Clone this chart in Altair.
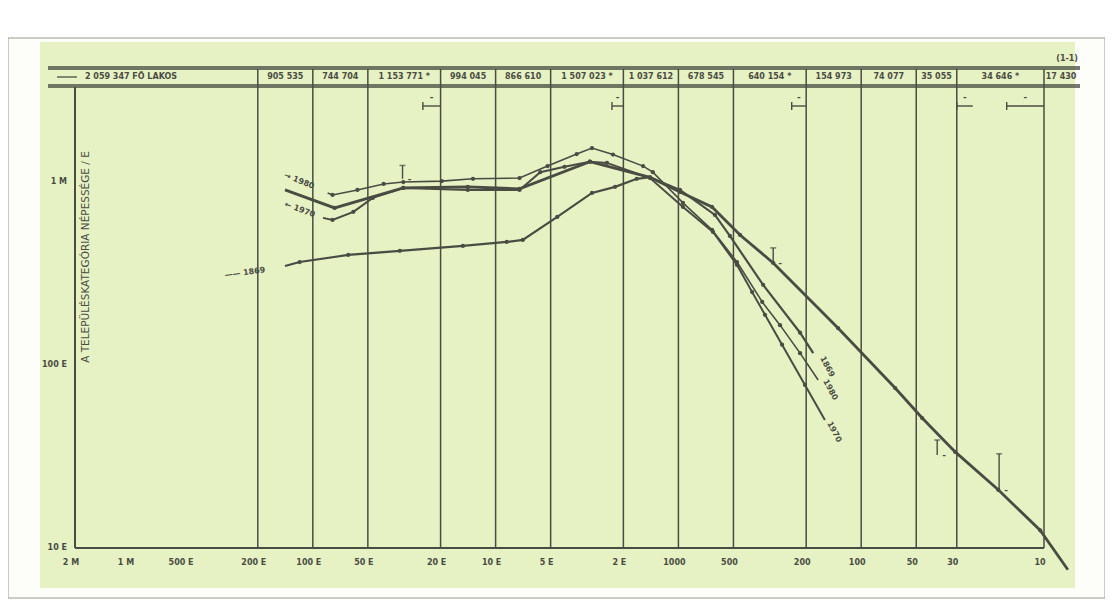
import altair as alt
import pandas as pd

# ---------------- data ----------------
bounds = [200000, 100000, 50000, 20000, 10000, 5000, 2000, 1000, 500, 200, 100, 50, 30, 10]
x_tick_values = [2000000, 1000000, 500000, 200000, 100000, 50000, 20000, 10000,
                 5000, 2000, 1000, 500, 200, 100, 50, 30, 10]
x_tick_labels = ["2 M", "1 M", "500 E", "200 E", "100 E", "50 E", "20 E", "10 E",
                 "5 E", "2 E", "1000", "500", "200", "100", "50", "30", "10"]
y_tick_values = [1000000, 100000, 10000]
y_tick_labels = ["1 M", "100 E", "10 E"]

header_lo = [2000000, 200000, 100000, 50000, 20000, 10000, 5000, 2000, 1000, 500, 200, 100, 50, 30, 10]
header_hi = [200000, 100000, 50000, 20000, 10000, 5000, 2000, 1000, 500, 200, 100, 50, 30, 10, 6.5]
header_text = ["2 059 347 FŐ LAKOS", "905 535", "744 704", "1 153 771 *", "994 045",
               "866 610", "1 507 023 *", "1 037 612", "678 545", "640 154 *",
               "154 973", "74 077", "35 055", "34 646 *", "17 430"]

s1980_x = [83000, 78000, 57000, 41000, 32000, 19700, 13300, 7400, 5200, 3600, 2970,
           2280, 1560, 1380, 944, 655, 478, 348, 278, 216, 172]
s1980_y = [871000, 849000, 904000, 975000, 998000, 1010000, 1040000, 1050000, 1220000,
           1420000, 1530000, 1410000, 1220000, 1130000, 768000, 547000, 365000, 221000,
           165000, 116000, 82800]

sthick_x = [142000, 76000, 32000, 14200, 7400, 3050, 1430, 980, 655, 460, 303, 134,
            65.2, 46.4, 30.6, 17.8, 10.5, 7.4]
sthick_y = [904000, 721000, 927000, 940000, 916000, 1290000, 1060000, 881000, 730000,
            513000, 361000, 159000, 74800, 51300, 33500, 20800, 12500, 7600]

s1970_x = [88000, 78000, 60000, 47000, 32000, 14200, 7400, 5700, 4200, 3050, 2460,
           1430, 944, 647, 478, 395, 336, 271, 203, 158]
s1970_y = [636000, 620000, 686000, 818000, 927000, 904000, 904000, 1130000, 1210000,
           1290000, 1270000, 1050000, 730000, 533000, 352000, 250000, 188000, 129000,
           77800, 50000]

s1869_x = [142000, 118000, 64000, 33400, 15100, 8700, 7100, 4600, 2970, 2220, 1690,
           1430, 980, 631, 523, 344, 216, 183]
s1869_y = [347000, 365000, 399000, 420000, 447000, 470000, 482000, 644000, 871000,
           940000, 1040000, 1060000, 904000, 660000, 507000, 274000, 150000, 116000]

label_text = ["→ 1980", "← 1970", "—— 1869", "1869", "1980", "1970"]
label_x = [119000, 118000, 235000, 154, 148, 141]
label_y = [1010000, 703000, 318000, 97600, 73000, 43000]
label_angle = [22, 20, 352, 62, 62, 62]

range_x = [32300, 303, 38.4, 17.6]
range_top = [1230000, 436000, 38900, 32700]
range_bot = [1040000, 361000, 32200, 20800]

bracket_l = [25000, 2310, 240, 30, 16]
bracket_r = [20000, 2000, 200, 24.5, 10]

# ---------------- styling ----------------
W, H = 969, 461
INK = "#4a4c43"
GREEN = "#e6f1c4"
FONT = "DejaVu Sans"

xs = alt.Scale(type="log", domain=[10, 2000000], reverse=True, nice=False, zero=False)
ys = alt.Scale(type="log", domain=[10000, 3300000], nice=False, zero=False)


def X(f):
    return alt.X(f, type="quantitative", scale=xs, axis=None)


def Y(f):
    return alt.Y(f, type="quantitative", scale=ys, axis=None)


one = pd.DataFrame({"a": [0]})

frame = alt.Chart(one).mark_rect(fill="#fdfdf9", stroke="#9a9a90", strokeWidth=1).encode(
    x=alt.value(-67), x2=alt.value(W + 61), y=alt.value(-49), y2=alt.value(H + 50))
green = alt.Chart(one).mark_rect(fill=GREEN).encode(
    x=alt.value(-35), x2=alt.value(W + 31), y=alt.value(-45), y2=alt.value(H + 40))

bdf = pd.DataFrame({"b": bounds})
grid = alt.Chart(bdf).mark_rule(color=INK, strokeWidth=1.5).encode(
    x=X("b"), y=alt.value(-18), y2=alt.value(H))

# axis lines
x_axis = alt.Chart(one).mark_rule(color=INK, strokeWidth=2).encode(
    x=alt.value(0), x2=alt.value(W), y=alt.value(H))
y_axis = alt.Chart(one).mark_rule(color=INK, strokeWidth=2).encode(
    x=alt.value(0), y=alt.value(0), y2=alt.value(H))

hlines = []
for yy in [-20, -18, -2, 0]:
    hlines.append(alt.Chart(one).mark_rule(color=INK, strokeWidth=1.3).encode(
        x=alt.value(-27), x2=alt.value(W + 36), y=alt.value(yy)))
arrow = alt.Chart(one).mark_rule(color=INK, strokeWidth=1.3).encode(
    x=alt.value(-18), x2=alt.value(2), y=alt.value(-10))

hdf = pd.DataFrame({"lo": header_lo, "hi": header_hi, "t": header_text})
hdf["c"] = (hdf["lo"] * hdf["hi"]) ** 0.5
head_first = alt.Chart(hdf.iloc[:1]).mark_text(
    align="left", baseline="middle", dx=10, font=FONT, fontSize=8, fontWeight="bold",
    color=INK).encode(x=X("lo"), y=alt.value(-10), text="t")
head_rest = alt.Chart(hdf.iloc[1:]).mark_text(
    align="center", baseline="middle", font=FONT, fontSize=8, fontWeight="bold",
    color=INK).encode(x=X("c"), y=alt.value(-10), text="t")
corner = alt.Chart(one).mark_text(
    align="right", baseline="middle", font=FONT, fontSize=8, fontWeight="bold",
    color=INK, text="(1-1)").encode(x=alt.value(W + 34), y=alt.value(-28))

layers = [frame, green, grid, x_axis, y_axis] + hlines + [arrow, head_first, head_rest, corner]

series = [(s1980_x, s1980_y, 1.6), (sthick_x, sthick_y, 2.8),
          (s1970_x, s1970_y, 2.0), (s1869_x, s1869_y, 2.2)]
for sx, sy, w in series:
    d = pd.DataFrame({"x": sx, "y": sy, "i": range(len(sx))})
    layers.append(alt.Chart(d).mark_line(color=INK, strokeWidth=w).encode(
        x=X("x"), y=Y("y"), order="i:Q"))
    layers.append(alt.Chart(d.iloc[1:-1]).mark_point(
        filled=True, color=INK, size=18, opacity=1).encode(x=X("x"), y=Y("y")))

ldf = pd.DataFrame({"t": label_text, "x": label_x, "y": label_y, "a": label_angle})
for _, r in ldf.iterrows():
    layers.append(alt.Chart(pd.DataFrame([r])).mark_text(
        align="center", baseline="middle", font=FONT, fontSize=8, fontWeight="bold",
        color=INK, angle=float(r["a"])).encode(x=X("x"), y=Y("y"), text="t"))

rdf = pd.DataFrame({"x": range_x, "t": range_top, "b": range_bot})
layers.append(alt.Chart(rdf).mark_rule(color=INK, strokeWidth=1.4).encode(
    x=X("x"), y=Y("t"), y2="b"))
layers.append(alt.Chart(rdf).mark_tick(color=INK, thickness=1.5, size=6, orient="horizontal").encode(
    x=X("x"), y=Y("t")))
layers.append(alt.Chart(rdf).mark_text(
    text="-", dx=7, font=FONT, fontSize=9, fontWeight="bold", color=INK).encode(
    x=X("x"), y=Y("b")))

brdf = pd.DataFrame({"l": bracket_l, "r": bracket_r})
brdf["c"] = (brdf["l"] * brdf["r"]) ** 0.5
layers.append(alt.Chart(brdf).mark_rule(color=INK, strokeWidth=1.4).encode(
    x=X("l"), x2="r", y=alt.value(19)))
layers.append(alt.Chart(brdf).mark_rule(color=INK, strokeWidth=1.4).encode(
    x=X("l"), y=alt.value(15), y2=alt.value(23)))
layers.append(alt.Chart(brdf).mark_text(
    text="-", font=FONT, fontSize=9, fontWeight="bold", color=INK).encode(
    x=X("c"), y=alt.value(10)))

xt = pd.DataFrame({"v": x_tick_values, "t": x_tick_labels})
layers.append(alt.Chart(xt).mark_text(
    baseline="middle", dx=-4, font=FONT, fontSize=8, fontWeight="bold", color=INK).encode(
    x=X("v"), y=alt.value(H + 15), text="t"))
yt = pd.DataFrame({"v": y_tick_values, "t": y_tick_labels})
layers.append(alt.Chart(yt).mark_text(
    align="right", baseline="middle", dx=-8, font=FONT, fontSize=8, fontWeight="bold",
    color=INK).encode(x=alt.value(0), y=Y("v"), text="t"))
layers.append(alt.Chart(one).mark_text(
    text="A TELEPÜLÉSKATEGÓRIA NÉPESSÉGE / E", angle=270, align="center",
    baseline="middle", font=FONT, fontSize=10.5, color=INK).encode(
    x=alt.value(11), y=alt.value(170)))

chart = alt.layer(*layers).properties(
    width=W, height=H,
    autosize=alt.AutoSizeParams(type="none"),
    padding={"left": 67, "top": 79, "right": 61, "bottom": 51},
    background="#ffffff",
).configure_view(strokeOpacity=0)

chart.save("out.html", embed_options={"renderer": "svg", "actions": False})
